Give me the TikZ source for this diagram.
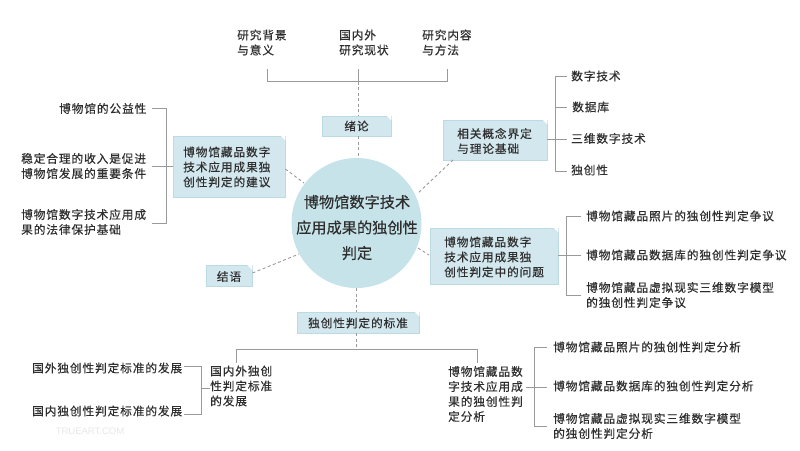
\documentclass[tikz,border=0pt]{standalone}
\usepackage{fontspec}
\setmainfont{Noto Sans CJK SC}[FakeBold=0.35]
\newfontfamily\markfont{Liberation Sans}
\definecolor{boxfill}{HTML}{D3E8EE}
\definecolor{boxedge}{HTML}{BBDAE2}
\definecolor{disc}{HTML}{C6E3EA}
\definecolor{ink}{HTML}{2E2E2E}
\definecolor{wire}{HTML}{9A9A9A}
\tikzset{
  x=1pt,y=-1pt,
  lbl/.style={font=\fontsize{11.7}{15}\selectfont\addfontfeatures{LetterSpace=7.5},text=ink,align=left,inner sep=0pt,anchor=west},
  tag/.style={draw=boxedge,fill=boxfill,line width=0.8pt,inner sep=0pt},
  wirepath/.style={draw=wire,line width=0.9pt},
  dashpath/.style={draw=wire,line width=0.9pt,dash pattern=on 3pt off 2.5pt},
}
\newcommand{\foldcorner}[1]{\fill[white] (#1.north east) ++(-5,0) -- ++(5,0) -- ++(0,5) -- cycle;}
\begin{document}
\begin{tikzpicture}
\useasboundingbox (0,0) rectangle (800,450);
\fill[white] (0,0) rectangle (800,450);
% faint watermark
\node[font=\markfont\fontsize{9.5}{10}\selectfont,text=black!9,inner sep=0pt] (mark) at (90,431) {TRUEART.COM};
% hub
\node[circle,fill=disc,minimum size=130pt,inner sep=0pt] (hub) at (356.5,223) {};
\node[font=\fontsize{15.2}{25.5}\selectfont,text=ink,align=center,inner sep=0pt] (hubtext) at (357,227.5) {博物馆数字技术\\应用成果的独创性\\判定};
% tags
\node[tag,minimum width=69pt,minimum height=20pt] (intro) at (356.5,126) {};
\node[tag,minimum width=112pt,minimum height=61pt] (advice) at (229,166.5) {};
\node[tag,minimum width=104pt,minimum height=40pt] (concept) at (495,140) {};
\node[tag,minimum width=128pt,minimum height=56pt] (issue) at (494,256) {};
\node[tag,minimum width=46pt,minimum height=21pt] (concl) at (229,276) {};
\node[tag,minimum width=122pt,minimum height=21pt] (standard) at (358,322.5) {};
\foreach \n in {intro,advice,concept,issue,concl,standard}{\foldcorner{\n}}
% tag texts
\node[lbl,anchor=center] (introt) at (intro) {绪论};
\node[lbl] (advicet) at (183,167) {博物馆藏品数字\\技术应用成果独\\创性判定的建议};
\node[lbl] (conceptt) at (457,141) {相关概念界定\\与理论基础};
\node[lbl] (issuet) at (444,257) {博物馆藏品数字\\技术应用成果独\\创性判定中的问题};
\node[lbl,anchor=center] (conclt) at (229,276.5) {结语};
\node[lbl,anchor=center] (standardt) at (358,323) {独创性判定的标准};
% top leaves
\node[lbl] (t1) at (237,42.5) {研究背景\\与意义};
\node[lbl] (t2) at (339,42.5) {国内外\\研究现状};
\node[lbl] (t3) at (422,42.5) {研究内容\\与方法};
% left leaves
\node[lbl] (l1) at (59,108.5) {博物馆的公益性};
\node[lbl] (l2) at (21,166) {稳定合理的收入是促进\\博物馆发展的重要条件};
\node[lbl] (l3) at (21,222) {博物馆数字技术应用成\\果的法律保护基础};
% concept leaves
\node[lbl] (c1) at (571,76) {数字技术};
\node[lbl] (c2) at (572,107) {数据库};
\node[lbl] (c3) at (571,138.5) {三维数字技术};
\node[lbl] (c4) at (571,170) {独创性};
% issue leaves
\node[lbl] (i1) at (586,216) {博物馆藏品照片的独创性判定争议};
\node[lbl] (i2) at (586,255) {博物馆藏品数据库的独创性判定争议};
\node[lbl] (i3) at (586,295) {博物馆藏品虚拟现实三维数字模型\\的独创性判定争议};
% bottom
\node[lbl] (b1) at (210,386) {国内外独创\\性判定标准\\的发展};
\node[lbl] (b2) at (448,394) {博物馆藏品数\\字技术应用成\\果的独创性判\\定分析};
\node[lbl] (b11) at (32,368) {国外独创性判定标准的发展};
\node[lbl] (b12) at (32,411) {国内独创性判定标准的发展};
\node[lbl] (b21) at (553,347) {博物馆藏品照片的独创性判定分析};
\node[lbl] (b22) at (553,386) {博物馆藏品数据库的独创性判定分析};
\node[lbl] (b23) at (553,426) {博物馆藏品虚拟现实三维数字模型\\的独创性判定分析};
% junction coordinates
\coordinate (topbar) at (358,81.5);
\coordinate (botbar) at (356,349);
% dashed links
\draw[dashpath] (topbar) -- (358,116);
\draw[dashpath] (358,136) -- (358,158);
\draw[dashpath] (356,288) -- (356,312);
\draw[dashpath] (356,333) -- (botbar);
\draw[dashpath] (advice.east |- 0,169) -- (304,183);
\draw[dashpath] (453,160) -- (417,194);
\draw[dashpath] (418,248) -- (429,255);
\draw[dashpath] (252.5,273) -- (299,254);
% brackets
\draw[wirepath] (267,69) |- (447,81.5) -- (447,69);
\draw[wirepath] (358,69) -- (topbar);
\draw[wirepath] (152,108.5) -| (166,223) -- (152,223);
\draw[wirepath] (152,166) -- (advice.west |- 0,166);
\draw[wirepath] (567,76) -| (555,171) -- (567,171);
\draw[wirepath] (555,107) -- (567,107);
\draw[wirepath] (concept.east |- 0,139) -- (567,139);
\draw[wirepath] (581,216) -| (566.5,295) -- (581,295);
\draw[wirepath] (issue.east |- 0,255) -- (581,255);
\draw[wirepath] (236.5,363) |- (477.5,349) -- (477.5,363);
\draw[wirepath] (184,366.5) -| (201.5,414) -- (184,414);
\draw[wirepath] (201.5,388) -- (210,388);
\draw[wirepath] (547,347) -| (534,426) -- (547,426);
\draw[wirepath] (526,387) -- (547,387);
\end{tikzpicture}
\end{document}
